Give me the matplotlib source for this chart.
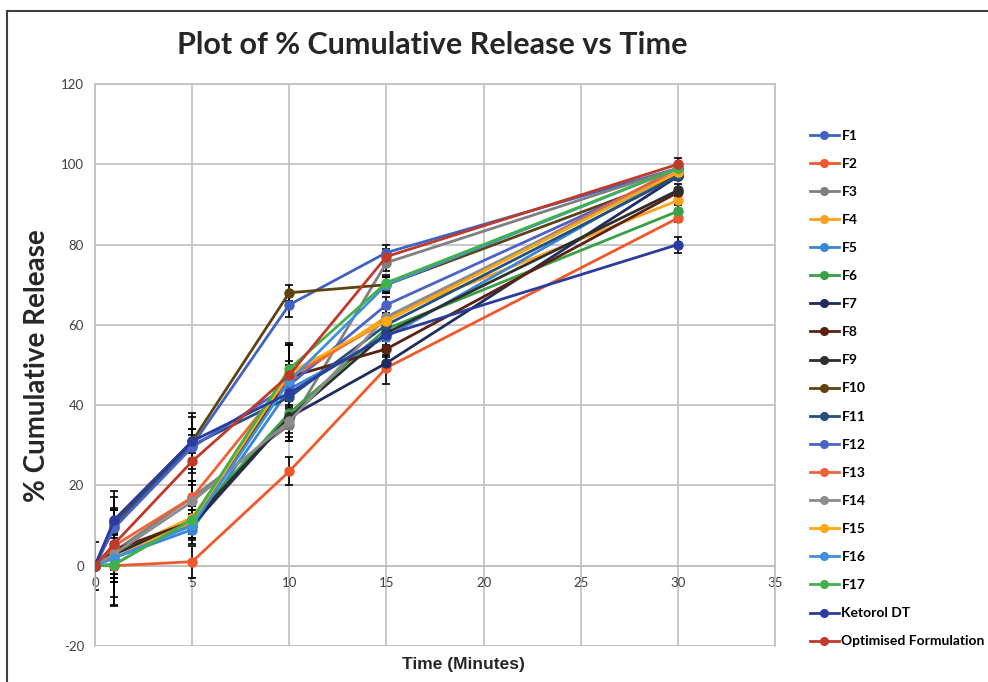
import matplotlib
matplotlib.use("Agg")
import matplotlib.pyplot as plt
from matplotlib.lines import Line2D

plt.rcParams["axes.unicode_minus"] = False

# Time points (minutes)
time_min = [0, 1, 5, 10, 15, 30]

# % cumulative release per formulation
labels = ["F1", "F2", "F3", "F4", "F5", "F6", "F7", "F8", "F9", "F10",
          "F11", "F12", "F13", "F14", "F15", "F16", "F17",
          "Ketorol DT", "Optimised Formulation"]

f1 = [0, 11, 30, 65, 78, 99]
f2 = [0, 0, 1, 23.5, 49.3, 86.6]
f3 = [0, 3.6, 17, 35, 75.5, 99]
f4 = [0, 3, 12, 46, 62, 91]
f5 = [0, 2, 9, 44, 57, 98]
f6 = [0, 0.3, 11.5, 38, 59, 88.3]
f7 = [0, 3, 10, 37, 50.5, 97]
f8 = [0, 4, 11, 47, 54, 93]
f9 = [0, 3, 11, 37, 58, 93.5]
f10 = [0, 11, 31, 68, 70, 97]
f11 = [0, 10, 30, 42, 60, 97]
f12 = [0, 9.5, 29.5, 45, 65, 98]
f13 = [0, 5, 17, 47, 61, 99]
f14 = [0, 3, 16, 36, 62, 98]
f15 = [0, 2, 11, 48, 61, 98]
f16 = [0, 2, 10, 46, 70, 99]
f17 = [0, 0.3, 11.5, 49, 70.5, 99]
ketorol = [0, 11.5, 31, 43, 57.5, 80]
optimised = [0, 5.5, 26, 47.5, 77, 100]

# standard deviations (error bars)
sd_f1 = [0, 3, 4, 3, 2, 1]
sd_f2 = [0, 10, 4, 3.5, 4, 1]
sd_f3 = [0, 4, 3, 4, 2, 1]
sd_f4 = [0, 6, 2, 3, 2, 1]
sd_f5 = [0, 3, 2, 3, 2, 1]
sd_f6 = [0, 8, 6, 4, 2, 1.5]
sd_f7 = [0, 5, 3, 4, 2, 1]
sd_f8 = [0, 4, 3, 3, 2, 1]
sd_f9 = [0, 6, 4, 5, 2, 1.5]
sd_f10 = [0, 3, 3, 2, 2, 1]
sd_f11 = [0, 7, 7, 5, 2, 1]
sd_f12 = [0, 5, 3, 3, 2, 1]
sd_f13 = [0, 9, 4, 4, 2, 1]
sd_f14 = [0, 7, 5, 5, 2, 1]
sd_f15 = [0, 5, 4, 7, 2, 1]
sd_f16 = [0, 4, 3, 3, 2, 1]
sd_f17 = [0, 10, 5, 6, 2, 1]
sd_ketorol = [0, 7, 7, 3, 3, 2]
sd_optimised = [6, 4, 5, 8, 2, 1.5]

colors = ["#3F63C3", "#F0592B", "#7F7F7F", "#FFA11F", "#3A86D4", "#39A046",
          "#1F2C5E", "#5B2111", "#2E2E2E", "#5E4310", "#24507E", "#4B63C8",
          "#F0633A", "#8C8C8C", "#FFA80F", "#4190DC", "#41B14D",
          "#2B3C9C", "#C0392B"]

series = [f1, f2, f3, f4, f5, f6, f7, f8, f9, f10, f11, f12, f13, f14, f15,
          f16, f17, ketorol, optimised]
errors = [sd_f1, sd_f2, sd_f3, sd_f4, sd_f5, sd_f6, sd_f7, sd_f8, sd_f9,
          sd_f10, sd_f11, sd_f12, sd_f13, sd_f14, sd_f15, sd_f16, sd_f17,
          sd_ketorol, sd_optimised]

fig = plt.figure(figsize=(9.88, 6.82), dpi=100)
ax = fig.add_axes([95 / 988, 1 - 646 / 682, (775 - 95) / 988, (646 - 84) / 682])

handles = []
for vals, err, col, lab in zip(series, errors, colors, labels):
    ax.errorbar(time_min, vals, yerr=err, fmt="none", ecolor="black",
                elinewidth=1.2, capsize=3, capthick=1.2, zorder=2)
    ln, = ax.plot(time_min, vals, color=col, lw=2, marker="o", ms=6.5,
                  label=lab, zorder=3)
    handles.append(ln)

ax.set_xlim(0, 35)
ax.set_ylim(-20, 120)
ax.set_xticks(range(0, 36, 5))
ax.set_yticks(range(-20, 121, 20))
ax.grid(True, color="#BFBFBF", lw=1.2)
ax.set_axisbelow(True)
for side in ["top", "right", "left"]:
    ax.spines[side].set_color("#BFBFBF")
    ax.spines[side].set_linewidth(1.2)
ax.spines["bottom"].set_position(("data", 0))
ax.spines["bottom"].set_color("#BFBFBF")
ax.spines["bottom"].set_linewidth(1.2)
ax.tick_params(length=0, labelsize=9.5, labelcolor="#404040", pad=8)
for t in ax.get_xticklabels() + ax.get_yticklabels():
    t.set_fontfamily("Lato")

# bottom border of plot area (at -20)
ax.axhline(-20, color="#BFBFBF", lw=1.2, zorder=1)

fig.text(432 / 988, 1 - 45 / 682, "Plot of % Cumulative Release vs Time",
         ha="center", va="center", fontsize=22, fontweight="bold",
         family="Lato", color="#262626")
fig.text(37 / 988, 1 - 366 / 682, "% Cumulative Release", rotation=90,
         ha="center", va="center", fontsize=20, fontweight="bold",
         family="Lato", color="#262626")
fig.text(463 / 988, 1 - 664 / 682, "Time (Minutes)", ha="center", va="center",
         fontsize=12.5, fontweight="bold", family="Liberation Sans",
         color="#262626")

fig.legend(handles=handles, labels=labels, loc="upper left",
           bbox_to_anchor=(797 / 988, 1 - 117 / 682), frameon=False,
           prop={"family": "Lato", "weight": "bold", "size": 10},
           handlelength=2.1, handletextpad=0.2, labelspacing=1.16,
           markerscale=0.85)

# outer frame
fig.add_artist(Line2D([7 / 988, 1], [1 - 11 / 682, 1 - 11 / 682],
                      color="#404040", lw=1.5))
fig.add_artist(Line2D([7 / 988, 7 / 988], [0, 1 - 11 / 682],
                      color="#404040", lw=1.5))

fig.savefig("out.png", dpi=100, facecolor="white")
